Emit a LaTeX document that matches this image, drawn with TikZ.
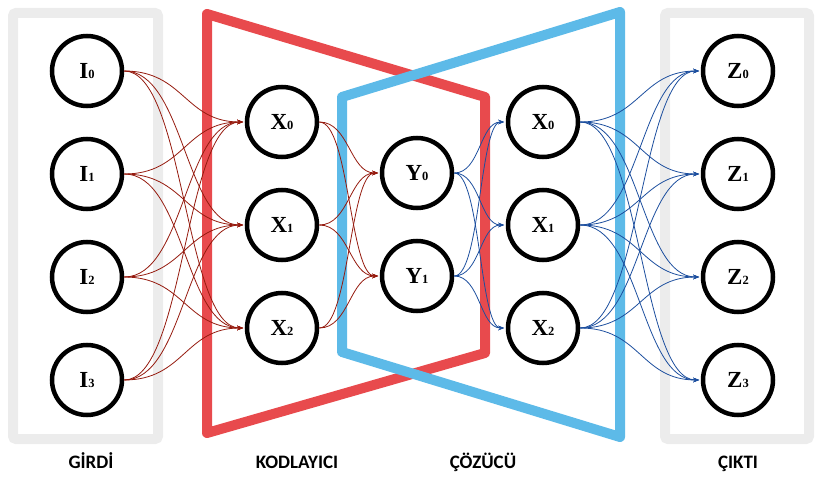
\documentclass[tikz,border=0pt]{standalone}
\usepackage{fontspec}
\setmainfont{Liberation Serif}
\newfontfamily\lblfont{Carlito}
\usetikzlibrary{arrows.meta}
\definecolor{boxgrey}{HTML}{ECECEC}
\definecolor{encred}{HTML}{E84A4D}
\definecolor{decblue}{HTML}{5DBAE8}
\definecolor{edgered}{HTML}{951A0E}
\definecolor{edgeblue}{HTML}{1C4E9E}
\tikzset{
  neuron/.style={circle, draw=black, line width=4.5pt, fill=white, minimum size=70pt, inner sep=0pt,
    font=\fontsize{23}{25}\selectfont\bfseries},
  redge/.style={draw=edgered, line width=0.8pt, -{Stealth[length=6pt,width=4.5pt]}, shorten >=1.5pt},
  bedge/.style={draw=edgeblue, line width=0.8pt, -{Stealth[length=6pt,width=4.5pt]}, shorten >=1.5pt},
  greybox/.style={draw=boxgrey, line width=10pt, rounded corners=3pt},
  trap/.style={line width=10pt, line join=round},
  caption/.style={font=\lblfont\fontsize{19}{22}\selectfont\bfseries, anchor=base}
}
\newcommand{\nsub}[2]{#1{\fontsize{12.5}{12.5}\selectfont #2}}
\begin{document}
\begin{tikzpicture}[x=1pt,y=-1pt]
\useasboundingbox (0,0) rectangle (825,489);
% grey boxes
\draw[greybox] (13,13) rectangle (158,439);
\draw[greybox] (665,13) rectangle (809,439);
% trapezoids
\draw[trap, draw=encred] (485,97) -- (207,14) -- (207,433) -- (485,353) -- cycle;
\draw[trap, draw=decblue] (342,97) -- (620,12) -- (620,437) -- (342,352) -- cycle;
% nodes
\foreach \i/\y in {0/71,1/174,2/277,3/380}{
  \node[neuron] (I\i) at (87,\y) {\nsub{I}{\i}};
  \node[neuron] (Z\i) at (738,\y) {\nsub{Z}{\i}};
}
\foreach \i/\y in {0/122,1/225,2/328}{
  \node[neuron] (X\i) at (282,\y) {\nsub{X}{\i}};
  \node[neuron] (D\i) at (543,\y) {\nsub{X}{\i}};
}
\foreach \i/\y in {0/173,1/276}{
  \node[neuron] (Y\i) at (417,\y) {\nsub{Y}{\i}};
}
% edges
\foreach \a in {0,1,2,3}{\foreach \b in {0,1,2}{
  \draw[redge] (I\a.east) to[out=0,in=180,distance=60pt] (X\b.west);}}
\foreach \a in {0,1,2}{\foreach \b in {0,1}{
  \draw[redge] (X\a.east) to[out=0,in=180,distance=30pt] (Y\b.west);}}
\foreach \a in {0,1}{\foreach \b in {0,1,2}{
  \draw[bedge] (Y\a.east) to[out=0,in=180,distance=26pt] (D\b.west);}}
\foreach \a in {0,1,2}{\foreach \b in {0,1,2,3}{
  \draw[bedge] (D\a.east) to[out=0,in=180,distance=60pt] (Z\b.west);}}
% captions
\node[caption] (cg) at (91,468) {GİRDİ};
\node[caption] (ck) at (297,468) {KODLAYICI};
\node[caption] (cc) at (483,468) {ÇÖZÜCÜ};
\node[caption] (ci) at (738,468) {ÇIKTI};
\end{tikzpicture}
\end{document}
